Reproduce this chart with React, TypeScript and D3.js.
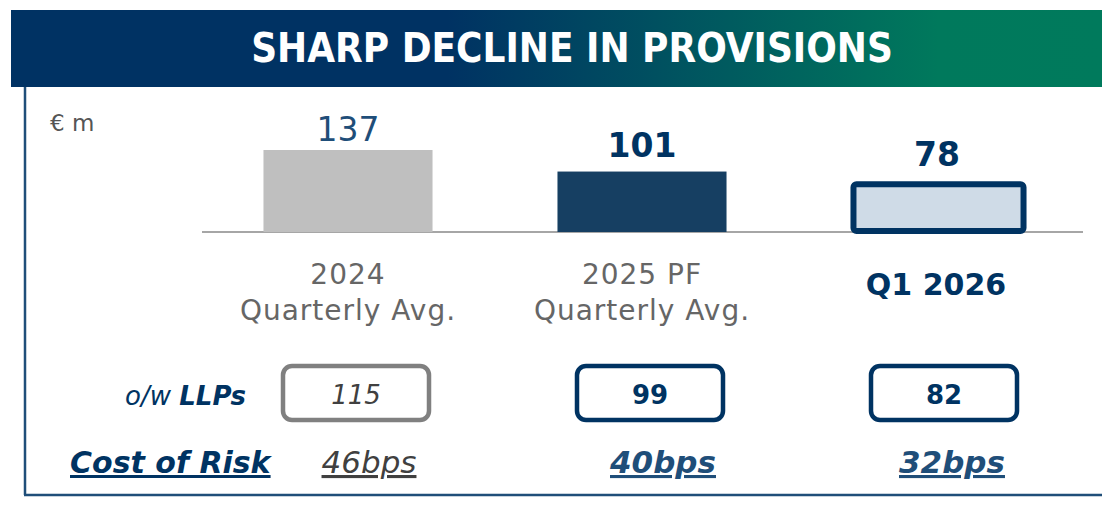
import React from "react";
import * as d3 from "d3";

const title = "SHARP DECLINE IN PROVISIONS";
const unitLabel = "€ m";
const categories = ["2024", "2025 PF", "Q1 2026"];
const categorySub = ["Quarterly Avg.", "Quarterly Avg.", ""];
const values = [137, 101, 78];
const llps = [115, 99, 82];
const costOfRisk = ["46bps", "40bps", "32bps"];

const W = 1102;
const H = 505;
const NAVY = "#003362";
const BODY = "'DejaVu Sans', sans-serif";

export default function App() {
  const x = d3
    .scaleBand<string>()
    .domain(categories)
    .range([201, 1083])
    .paddingInner(0.425)
    .paddingOuter(0.2125);
  const y = d3.scaleLinear().domain([0, 137]).range([232, 150]);
  const bw = x.bandwidth();

  return (
    <svg width={W} height={H} style={{ position: "absolute", left: 0, top: 0 }}>
      <defs>
        <linearGradient id="hdr" x1="0" x2="1" y1="0" y2="0">
          <stop offset="0" stopColor="#003263" />
          <stop offset="0.4" stopColor="#003263" />
          <stop offset="0.85" stopColor="#00795c" />
          <stop offset="1" stopColor="#007a5c" />
        </linearGradient>
      </defs>
      <rect x={0} y={0} width={W} height={H} fill="#fff" />
      <rect x={11} y={10} width={W - 11} height={77} fill="url(#hdr)" />
      <text
        x={572}
        y={62}
        textAnchor="middle"
        fill="#fff"
        fontFamily="'Liberation Sans Narrow', 'DejaVu Sans Condensed', sans-serif"
        fontWeight="bold"
        fontSize={40}
      >
        {title}
      </text>
      {/* frame */}
      <line x1={25} x2={25} y1={87} y2={495} stroke="#1f4e79" strokeWidth={2.5} />
      <line x1={24} x2={W} y1={495} y2={495} stroke="#1f4e79" strokeWidth={2.5} />

      <text x={50} y={131} fontFamily={BODY} fontSize={23} fill="#555">
        {unitLabel}
      </text>

      {/* baseline */}
      <line x1={202} x2={1083} y1={232} y2={232} stroke="#a6a6a6" strokeWidth={2} />

      {categories.map((c, i) => {
        const cx = (x(c) as number) + bw / 2;
        const top = y(values[i]);
        const h = y(0) - top;
        const last = i === categories.length - 1;
        return (
          <g key={c}>
            {i === 0 && <rect x={x(c)} y={top} width={bw} height={h} fill="#bfbfbf" />}
            {i === 1 && <rect x={x(c)} y={top} width={bw} height={h} fill="#163f62" />}
            {last && (
              <rect
                x={(x(c) as number) + 2}
                y={top - 1}
                width={bw + 1}
                height={h}
                rx={3}
                fill="#cfdbe7"
                stroke={NAVY}
                strokeWidth={6}
              />
            )}
            <text
              x={cx + (last ? 1 : 0)}
              y={top - (i === 0 ? 9 : i === 1 ? 15 : 19)}
              textAnchor="middle"
              fontFamily={BODY}
              fontSize={33}
              fontWeight={i === 0 ? "normal" : "bold"}
              fill={i === 0 ? "#1f4e79" : NAVY}
            >
              {values[i]}
            </text>
            {/* category labels */}
            {!last ? (
              <>
                <text x={cx} y={284} textAnchor="middle" fontFamily={BODY} fontSize={28} letterSpacing={1} fill="#666">
                  {c}
                </text>
                <text x={cx} y={320} textAnchor="middle" fontFamily={BODY} fontSize={28} letterSpacing={1} fill="#666">
                  {categorySub[i]}
                </text>
              </>
            ) : (
              <text
                x={cx}
                y={295}
                textAnchor="middle"
                fontFamily={BODY}
                fontSize={30}
                fontWeight="bold"
                fill={NAVY}
              >
                {c}
              </text>
            )}
            {/* LLP boxes */}
            <rect
              x={cx + 8 - 73}
              y={366}
              width={146}
              height={54}
              rx={9}
              fill="#fff"
              stroke={i === 0 ? "#808080" : NAVY}
              strokeWidth={4.5}
            />
            <text
              x={cx + 8}
              y={404}
              textAnchor="middle"
              fontFamily={BODY}
              fontSize={26}
              fontStyle={i === 0 ? "italic" : "normal"}
              fontWeight={i === 0 ? "normal" : "bold"}
              fill={i === 0 ? "#404040" : NAVY}
            >
              {llps[i]}
            </text>
            {/* cost of risk */}
            <text
              x={cx + (last ? 16 : 21)}
              y={473}
              textAnchor="middle"
              fontFamily={BODY}
              fontSize={31}
              fontStyle="italic"
              fontWeight={i === 0 ? "normal" : "bold"}
              textDecoration="underline"
              fill={i === 0 ? "#404040" : "#1f4e79"}
            >
              {costOfRisk[i]}
            </text>
          </g>
        );
      })}

      <text x={246} y={405} textAnchor="end" fontFamily={BODY} fontSize={26} fontStyle="italic" fill={NAVY}>
        <tspan>o/w </tspan>
        <tspan fontWeight="bold">LLPs</tspan>
      </text>
      <text
        x={70}
        y={473}
        fontFamily={BODY}
        fontSize={30}
        fontStyle="italic"
        fontWeight="bold"
        textDecoration="underline"
        fill={NAVY}
      >
        Cost of Risk
      </text>
    </svg>
  );
}
